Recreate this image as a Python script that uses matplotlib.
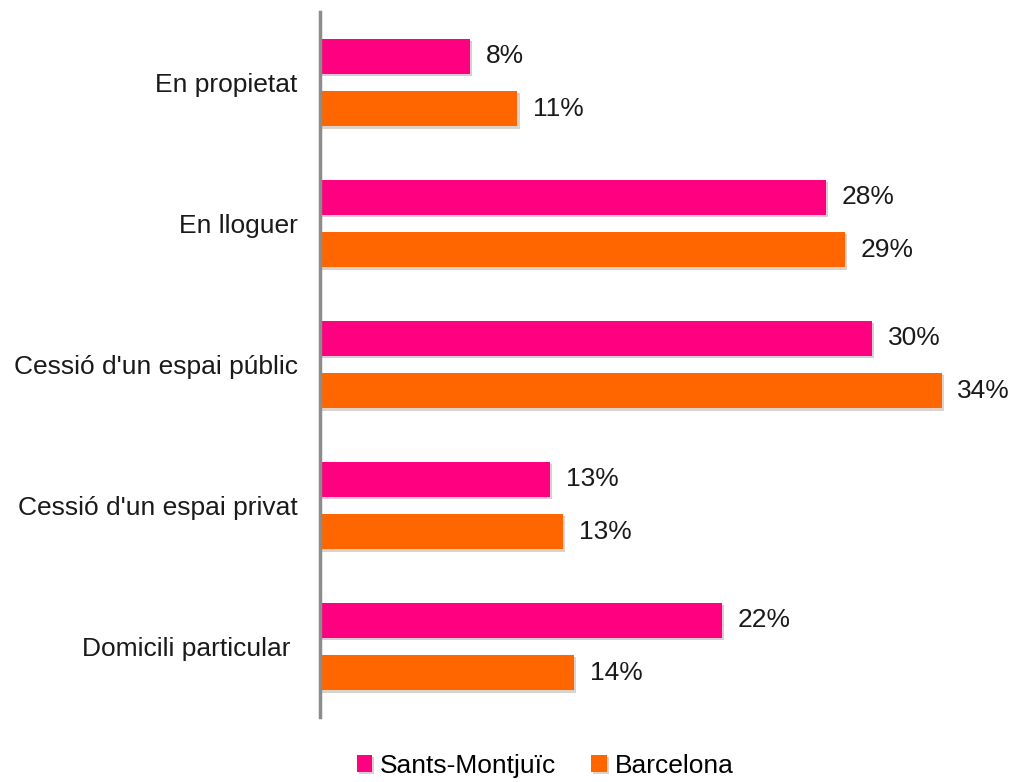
import matplotlib.pyplot as plt
import matplotlib.patheffects as pe
import numpy as np

plt.rcParams['font.family'] = ['Liberation Sans', 'DejaVu Sans']

categories = ['En propietat', 'En lloguer', "Cessió d'un espai públic",
              "Cessió d'un espai privat", 'Domicili particular ']
sants = [8.2, 27.7, 30.2, 12.6, 22.0]
barcelona = [10.8, 28.7, 34.0, 13.3, 13.9]
series_names = ['Sants-Montjuïc', 'Barcelona']
colors = ['#FF0080', '#FF6600']

fig = plt.figure(figsize=(10.15, 7.82), dpi=100)
ax = fig.add_axes([320 / 1015, 65 / 782, 680 / 1015, 705 / 782])

y = np.arange(len(categories))
off = 0.187
h = 0.25
shadow = [pe.SimplePatchShadow(offset=(1.5, -1.5), alpha=0.2), pe.Normal()]

for vals, dy, col, name in [(sants, -off, colors[0], series_names[0]),
                            (barcelona, off, colors[1], series_names[1])]:
    bars = ax.barh(y + dy, vals, height=h, color=col, label=name)
    for b, v in zip(bars, vals):
        b.set_path_effects(shadow)
        ax.text(v + 0.85, b.get_y() + h / 2, '%.0f%%' % v, va='center', ha='left',
                fontsize=19, color='#1a1a1a')

ax.set_yticks(y)
ax.set_yticklabels(categories, fontsize=19, color='#1a1a1a')
ax.tick_params(axis='y', length=0, pad=16)
ax.set_ylim(4.5, -0.5)
ax.set_xlim(0, 37.2)
ax.set_xticks([])
for s in ['top', 'right', 'bottom']:
    ax.spines[s].set_visible(False)
ax.spines['left'].set_color('#8c8c8c')
ax.spines['left'].set_linewidth(2.5)

fig.legend(loc='lower center', bbox_to_anchor=(545 / 1015, -0.025), ncol=2,
           frameon=False, fontsize=19, handlelength=0.6, handleheight=0.6,
           handletextpad=0.3, columnspacing=1.3)

fig.savefig('out.png', dpi=100)
